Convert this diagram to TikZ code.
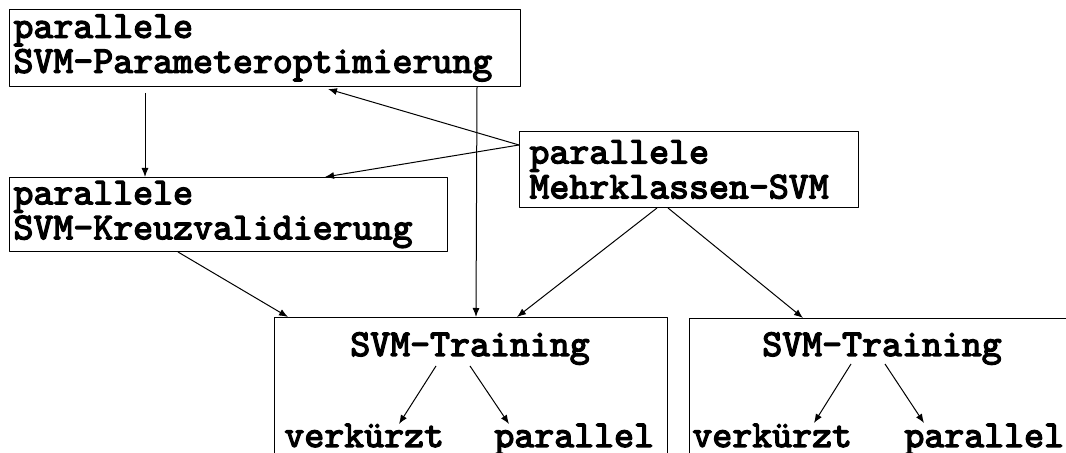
\documentclass[tikz,border=0pt]{standalone}
\usepackage{fontspec}
\usepackage{tikz}
\usetikzlibrary{arrows.meta}

\newfontfamily\diafam{lmmono10-regular.otf}[FakeBold=3.5]
\newcommand{\diafont}{\fontsize{19}{17.5}\selectfont\diafam}

\begin{document}
\begin{tikzpicture}[x=0.5pt, y=-0.5pt,
			line join=round,
			every node/.style = {font=\diafont},
			box/.style = {draw, line width=0.5pt, anchor=north west, align=left, inner xsep=2pt, inner ysep=0pt},
			frame/.style = {draw, line width=0.5pt, anchor=north west, inner sep=0pt},
			lbl/.style = {inner sep=0pt},
			arr/.style = {-{Latex[length=4.5pt, width=3.5pt]}, line width=0.5pt}
			]
			\useasboundingbox (0,0) rectangle (1066,453);
			\clip (0,0) rectangle (1066,453);
			% upper boxes
			\node[box, text width=251.5pt, minimum height=38.5pt] (paramopt) at (9,9) {parallele\\SVM-Parameteroptimierung};
			\node[box, text width=215pt, minimum height=37pt] (crossval) at (9,177) {parallele\\SVM-Kreuzvalidierung};
			\node[box, inner xsep=5pt, text width=159.5pt, minimum height=38pt] (multiclass) at (519,131) {parallele\\Mehrklassen-SVM};
			% training boxes
			\node[frame, minimum width=196.5pt, minimum height=85pt] (trainbox) at (274,317) {};
			\node[frame, minimum width=196pt, minimum height=85pt] (trainboxb) at (689,318) {};
			\node[lbl, anchor=base] (train) at (470,356) {SVM-Training};
			\node[lbl, anchor=base west] (short) at (284,447) {verkürzt};
			\node[lbl, anchor=base west] (par) at (494,447) {parallel};
			\node[lbl, anchor=base] (trainb) at (882,356) {SVM-Training};
			\node[lbl, anchor=base west] (shortb) at (692,447) {verkürzt};
			\node[lbl, anchor=base west] (parb) at (904,447) {parallel};
			% connectors
			\draw[arr] ([shift={(136,6)}]paramopt.south west) -- ([xshift=68pt]crossval.north west);
			\draw[arr] ([xshift=-22pt]paramopt.south east) -- ([xshift=101pt]trainbox.north west);
			\draw[arr] ([yshift=-7pt]multiclass.north west) -- ([shift={(319,2)}]paramopt.south west);
			\draw[arr] ([yshift=-7pt]multiclass.north west) -- ([xshift=158pt]crossval.north west);
			\draw[arr] ([xshift=84.5pt]crossval.south west) -- ([xshift=7pt]trainbox.north west);
			\draw[arr] ([xshift=69pt]multiclass.south west) -- ([xshift=121.5pt]trainbox.north west);
			\draw[arr] ([xshift=74.5pt]multiclass.south west) -- ([xshift=57pt]trainboxb.north west);
			\draw[arr] ([shift={(-34,10)}]train.base) -- ([shift={(115,-23)}]short.base west);
			\draw[arr] ([shift={(0,10)}]train.base) -- ([shift={(15,-23)}]par.base west);
			\draw[arr] ([shift={(-31,8)}]trainb.base) -- ([shift={(122,-24)}]shortb.base west);
			\draw[arr] ([shift={(3,8)}]trainb.base) -- ([shift={(20,-24)}]parb.base west);
\end{tikzpicture}
\end{document}
